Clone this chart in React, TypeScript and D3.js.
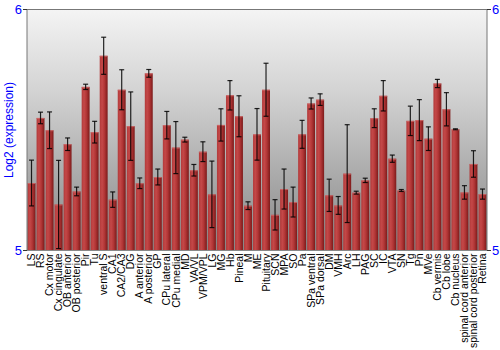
import React from "react";
import * as d3 from "d3";

const categories = [
  "LS","RS","Cx motor","Cx cingulate","OB anterior","OB posterior","Pir","Tu","ventral S","CA1",
  "CA2/CA3","DG","A anterior","A posterior","GP","CPu lateral","CPu medial","MD","VA/VL","VPM/VPL",
  "LG","MG","Hb","Pineal","M","ME","Pituitary","SCN","MPA","SO",
  "Pa","SPa ventral","SPa dorsal","DM","VMH","Arc","LH","PAG","SC","IC",
  "VTA","SN","Tg","Pn","MVe","Cb vermis","Cb lobe","Cb nucleus","spinal cord anterior","spinal cord posterior",
  "Retina",
];

const values = [
  5.280,5.550,5.499,5.191,5.441,5.245,5.679,5.491,5.808,5.211,
  5.667,5.516,5.279,5.735,5.305,5.520,5.427,5.460,5.333,5.410,
  5.233,5.521,5.644,5.557,5.186,5.482,5.667,5.148,5.255,5.201,
  5.482,5.610,5.626,5.229,5.187,5.319,5.240,5.291,5.549,5.642,
  5.381,5.249,5.538,5.541,5.464,5.693,5.586,5.503,5.241,5.359,
  5.234,
];

const errors = [
  0.095,0.024,0.076,0.183,0.026,0.018,0.011,0.045,0.077,0.032,
  0.083,0.142,0.022,0.016,0.033,0.057,0.108,0.010,0.024,0.041,
  0.138,0.067,0.061,0.085,0.016,0.107,0.110,0.063,0.083,0.062,
  0.058,0.023,0.024,0.067,0.037,0.203,0.006,0.009,0.039,0.063,
  0.015,0.004,0.061,0.085,0.049,0.017,0.069,0.002,0.028,0.055,
  0.021,
];

const yTicks = [5, 6];

const W = 500, H = 350;
const left = 27, right = 487, top = 9.5, bottom = 250.5;

export default function App() {
  const x = d3.scaleBand<string>().domain(categories).range([left, right]).paddingInner(0.12).paddingOuter(0.06);
  const y = d3.scaleLinear().domain([5, 6]).range([bottom, top]);
  const bw = x.bandwidth();
  const font = "'Liberation Sans', Arial, sans-serif";
  return (
    <svg width={W} height={H} style={{ position: "absolute", left: 0, top: 0 }}>
      <defs>
        <linearGradient id="bg" x1="0" y1="0" x2="0" y2="1">
          <stop offset="0%" stopColor="#f4f4f4" />
          <stop offset="35%" stopColor="#d2d2d2" />
          <stop offset="100%" stopColor="#868686" />
        </linearGradient>
        <linearGradient id="bar" x1="0" y1="0" x2="1" y2="0">
          <stop offset="0%" stopColor="#b23a3a" />
          <stop offset="30%" stopColor="#c44848" />
          <stop offset="60%" stopColor="#b23636" />
          <stop offset="100%" stopColor="#7c1a1a" />
        </linearGradient>
      </defs>
      <rect x={left} y={top} width={right - left} height={bottom - top} fill="url(#bg)" />
      {categories.map((c, i) => {
        const x0 = x(c)!;
        const yt = y(values[i]);
        const cx = x0 + bw / 2;
        const y1 = y(values[i] + errors[i]);
        const y2 = y(values[i] - errors[i]);
        return (
          <g key={c}>
            <rect x={x0} y={yt} width={bw} height={bottom - yt} fill="url(#bar)" />
            <rect x={x0} y={yt} width={bw} height={1} fill="#d06a6a" opacity={0.8} />
            <line x1={cx} x2={cx} y1={y1} y2={y2} stroke="#000" strokeWidth={1.2} strokeOpacity={0.85} />
            <line x1={cx - 2.5} x2={cx + 2.5} y1={y1} y2={y1} stroke="#000" strokeWidth={1.2} strokeOpacity={0.85} />
            <line x1={cx - 2.5} x2={cx + 2.5} y1={y2} y2={y2} stroke="#000" strokeWidth={1.2} strokeOpacity={0.85} />
            <text
              transform={`translate(${cx},${bottom + 3}) rotate(-90)`}
              textAnchor="end"
              dy="0.35em"
              fontFamily={font}
              fontSize={10.5}
              fill="#000"
            >
              {c}
            </text>
          </g>
        );
      })}
      <line x1={left} x2={right} y1={top} y2={top} stroke="#777" />
      <line x1={left} x2={right} y1={bottom} y2={bottom} stroke="#888" />
      <line x1={left} x2={left} y1={top} y2={bottom} stroke="#777" />
      <line x1={right} x2={right} y1={top} y2={bottom} stroke="#777" />
      {yTicks.map((t) => (
        <g key={t}>
          <line x1={left - 4} x2={left} y1={y(t)} y2={y(t)} stroke="#333" />
          <line x1={right} x2={right + 4} y1={y(t)} y2={y(t)} stroke="#333" />
          <text x={left - 5} y={y(t)} dy="0.35em" textAnchor="end" fontFamily={font} fontSize={13} fill="#0000ff">
            {t}
          </text>
          <text x={right + 5} y={y(t)} dy="0.35em" textAnchor="start" fontFamily={font} fontSize={13} fill="#0000ff">
            {t}
          </text>
        </g>
      ))}
      <text
        transform={`translate(13,${(top + bottom) / 2}) rotate(-90)`}
        textAnchor="middle"
        fontFamily={font}
        fontSize={12}
        fill="#0000ff"
      >
        Log2 (expression)
      </text>
    </svg>
  );
}
